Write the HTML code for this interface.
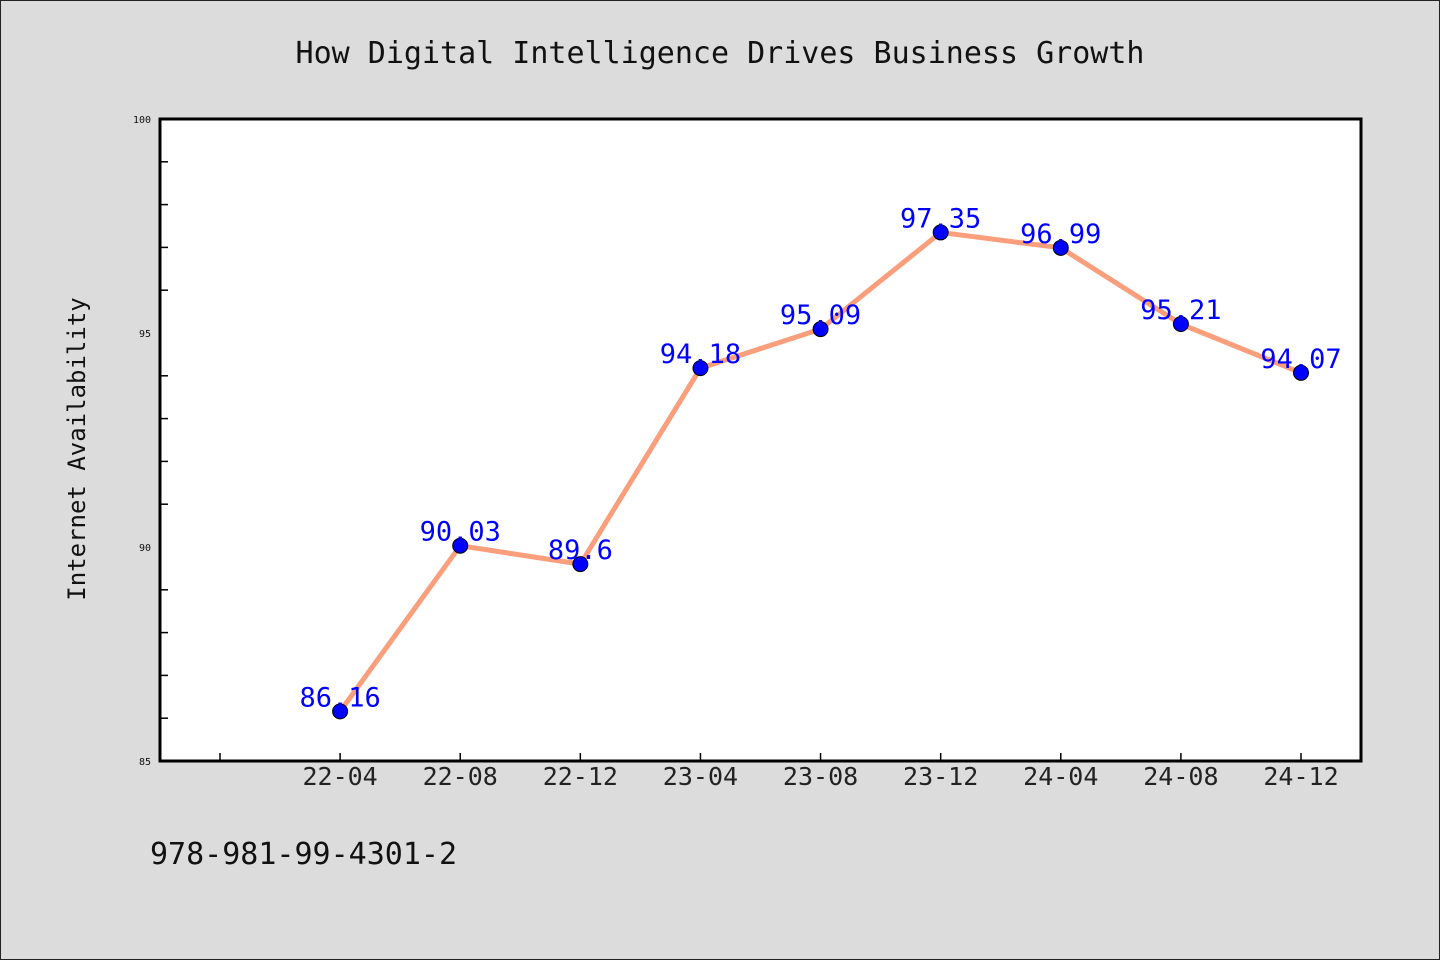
<!DOCTYPE html>
<html><head><meta charset="utf-8"><style>
html,body{margin:0;padding:0;background:#dcdcdc;}
svg{display:block;}
text{font-family:"DejaVu Sans Mono","Liberation Mono",monospace;}
</style></head><body>
<svg id="chart" width="1440" height="960" xmlns="http://www.w3.org/2000/svg">
<rect x="0.5" y="0.5" width="1439" height="959" fill="#dcdcdc" stroke="#222"/>
<text x="720" y="63" text-anchor="middle" font-size="30" fill="#111">How Digital Intelligence Drives Business Growth</text>
<rect x="160" y="119" width="1201" height="642" fill="#fff"/>
<text transform="translate(85,449) rotate(-90)" text-anchor="middle" font-size="24" fill="#111">Internet Availability</text>
<text x="150" y="864" font-size="30" fill="#111">978-981-99-4301-2</text>
<g id="ticks"></g><g id="marks"></g>
<rect x="160" y="119" width="1201" height="642" fill="none" stroke="#000" stroke-width="3"/>
</svg>
<script>
const categories = ["22-04","22-08","22-12","23-04","23-08","23-12","24-04","24-08","24-12"];
const values = [86.16,90.03,89.6,94.18,95.09,97.35,96.99,95.21,94.07];
const valueLabels = ["86.16","90.03","89.6","94.18","95.09","97.35","96.99","95.21","94.07"];
const yTickLabels = [85,90,95,100];
const yMin = 85, yMax = 100;
const NS="http://www.w3.org/2000/svg";
const L=160,R=1361,T=119,B=761;
function x(i){return 220+(i+1)*(R-L-120)/(categories.length);}
function y(v){return B-(v-yMin)/(yMax-yMin)*(B-T);}
function mk(tag,attrs,parent){const e=document.createElementNS(NS,tag);for(const k in attrs)e.setAttribute(k,attrs[k]);parent.appendChild(e);return e;}
const tk=document.getElementById('ticks'), mg=document.getElementById('marks');
for(let v=yMin+1;v<yMax;v++){
  if(yTickLabels.includes(v))continue;
  const t=mk('line',{x1:L,x2:L+8,y1:y(v),y2:y(v),stroke:'#000','stroke-width':1.5},tk);
  
  
}
yTickLabels.forEach(v=>{
  const t=mk('text',{x:151,y:y(v)+4,'text-anchor':'end','font-size':10,fill:'#111'},tk);
  t.textContent=v;
  
  
});
const tk0=mk('line',{x1:220,x2:220,y1:B,y2:B-8,stroke:'#000','stroke-width':1.5},tk);


categories.forEach((c,i)=>{
  const t=mk('line',{x1:x(i),x2:x(i),y1:B,y2:B-8,stroke:'#000','stroke-width':1.5},tk);
  
  
  const l=mk('text',{x:x(i),y:785,'text-anchor':'middle','font-size':25,fill:'#222'},tk);
  l.textContent=c;
  
  
});
const line=mk('polyline',{points:values.map((v,i)=>x(i)+','+y(v)).join(' '),fill:'none',stroke:'#fa9e7c','stroke-width':5,'stroke-linejoin':'round'},mg);


values.forEach((v,i)=>{
  const c=mk('circle',{cx:x(i),cy:y(v),r:7.5,fill:'#0000ff',stroke:'#000','stroke-width':1},mg);
  
  
});
values.forEach((v,i)=>{
  const t=mk('text',{x:x(i),y:y(v)-5,'text-anchor':'middle','font-size':27,fill:'#0000ff'},mg);
  t.textContent=valueLabels[i];
  
  
});
</script>
</body></html>
